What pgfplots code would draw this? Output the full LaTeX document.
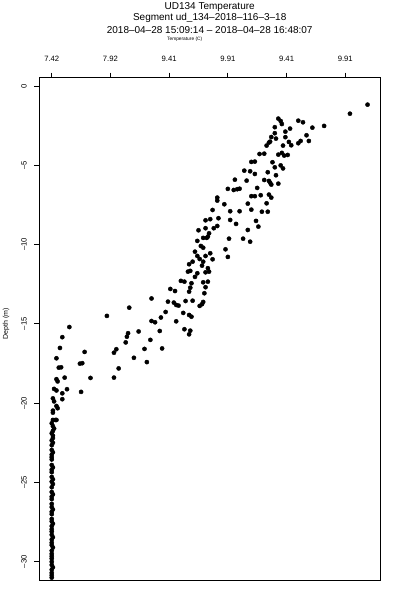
\documentclass[border=0pt]{standalone}
\usepackage{pgfplots}
\pgfplotsset{compat=1.18}
\usepackage{fontspec}
\setmainfont{Liberation Sans}
\begin{document}
\begin{tikzpicture}
\useasboundingbox (-39.3pt,-20pt) rectangle (360.7pt,580pt);
\begin{axis}[
  at={(0pt,0pt)}, anchor=south west,
  scale only axis, width=340.7pt, height=502.3pt,
  xmin=7.314, xmax=10.216, ymin=-31.15, ymax=0.52,
  axis line style={line width=0.8pt},
  xtick pos=upper, ytick pos=left,
  tick align=outside, major tick length=5pt,
  tick style={line width=0.8pt, black},
  xtick={7.42,7.92,8.42,8.92,9.42,9.92},
  xticklabels={7.42,7.92,9.41,9.91,9.41,9.91},
  ytick={-30,-25,-20,-15,-10,-5,0},
  yticklabels={–30,–25,–20,–15,–10,–5,0},
  ticklabel style={font=\fontsize{7.7}{8}\selectfont},
  xticklabel style={anchor=south, yshift=8pt},
  yticklabel style={rotate=90, anchor=south, yshift=4pt},
  clip=false,
]
\addplot[only marks, mark=*, mark size=2.1pt, black] coordinates {
(10.11,-1.18) (9.96,-1.75) (9.74,-2.52) (9.64,-2.63) (9.52,-2.19) (9.56,-2.29)
(9.35,-2.06) (9.37,-2.21) (9.38,-2.40) (9.45,-2.69) (9.32,-2.60) (9.41,-2.88)
(9.32,-2.98) (9.59,-3.11) (9.61,-3.47) (9.54,-3.47) (9.52,-3.61) (9.41,-3.23)
(9.29,-3.22) (9.28,-3.51) (9.27,-3.57) (9.33,-3.32) (9.44,-3.53) (9.46,-3.74)
(9.25,-3.76) (9.39,-3.76) (9.19,-4.29) (9.23,-4.27) (9.35,-4.33) (9.38,-4.22)
(9.40,-4.39) (9.43,-4.35) (9.12,-4.79) (9.15,-4.77) (9.30,-4.81) (9.32,-5.13)
(9.37,-5.01) (9.39,-5.20) (9.06,-5.34) (9.11,-5.38) (9.15,-5.55) (9.26,-5.44)
(9.33,-5.63) (9.23,-5.93) (9.27,-5.99) (9.28,-6.10) (9.29,-6.22) (9.35,-6.16)
(8.98,-5.91) (9.08,-5.97) (9.17,-6.43) (8.92,-6.49) (8.97,-6.56) (9.00,-6.51)
(9.02,-6.48) (9.12,-6.95) (9.15,-6.95) (9.20,-6.89) (9.27,-6.85) (9.29,-7.04)
(8.83,-7.04) (8.83,-7.23) (8.89,-7.46) (9.09,-7.42) (9.25,-7.40) (8.79,-7.82)
(8.94,-7.90) (9.02,-7.90) (9.12,-7.80) (9.21,-7.93) (9.26,-7.93) (8.73,-8.47)
(8.77,-8.40) (8.84,-8.34) (8.94,-8.45) (8.99,-8.70) (9.16,-8.51) (9.18,-8.87)
(8.67,-9.10) (8.73,-8.97) (8.80,-8.97) (8.83,-8.83) (8.76,-9.29) (9.09,-9.08)
(8.71,-9.58) (8.74,-9.58) (8.93,-9.63) (9.05,-9.63) (8.66,-9.77) (8.75,-9.50)
(9.11,-9.82) (8.69,-10.09) (8.71,-10.20) (8.90,-10.30) (8.64,-10.45) (8.66,-10.72)
(8.68,-10.91) (8.73,-10.72) (8.77,-10.55) (8.79,-10.93) (8.92,-10.78) (8.62,-11.08)
(8.59,-11.24) (8.71,-11.08) (8.70,-11.33) (8.75,-11.49) (8.76,-11.71) (8.73,-11.75)
(8.58,-11.71) (8.60,-11.66) (8.66,-11.81) (8.64,-12.04) (8.52,-12.29) (8.55,-12.34)
(8.61,-12.44) (8.71,-12.38) (8.75,-12.34) (8.73,-12.69) (8.43,-12.80) (8.47,-12.93)
(8.60,-12.72) (8.59,-12.97) (8.72,-13.07) (8.27,-13.40) (8.41,-13.60) (8.46,-13.66)
(8.48,-13.81) (8.50,-13.85) (8.56,-13.56) (8.62,-13.54) (8.70,-13.76) (8.68,-13.87)
(8.71,-13.62) (8.39,-14.25) (8.35,-14.60) (8.27,-14.82) (8.30,-14.90) (8.54,-14.31)
(8.59,-14.44) (8.61,-14.55) (8.48,-14.84) (8.34,-15.45) (8.55,-15.34) (8.60,-15.43)
(8.59,-15.66) (8.26,-16.01) (8.36,-16.55) (8.08,-13.98) (7.89,-14.50) (7.57,-15.20)
(7.51,-15.84) (7.49,-16.52) (7.46,-17.17) (7.70,-16.77) (7.66,-17.51) (7.68,-17.48)
(7.48,-17.76) (7.50,-17.74) (7.95,-18.39) (7.75,-18.41) (7.99,-17.81) (7.95,-16.82)
(7.97,-16.60) (8.05,-16.17) (8.06,-15.81) (8.07,-15.59) (8.12,-17.14) (8.16,-15.48)
(8.21,-16.58) (8.23,-17.41) (7.46,-18.49) (7.47,-18.63) (7.53,-18.39) (7.44,-19.10)
(7.46,-19.20) (7.51,-19.38) (7.55,-19.12) (7.67,-19.29) (7.43,-19.70) (7.44,-19.89)
(7.51,-19.75) (7.46,-20.18) (7.47,-20.32) (7.43,-20.47) (7.43,-20.60) (7.43,-21.06)
(7.45,-21.06) (7.46,-21.06) (7.42,-21.27)
(7.43,-21.45) (7.44,-21.60) (7.43,-21.75) (7.42,-21.90) (7.43,-22.05) (7.43,-22.20)
(7.42,-22.35) (7.43,-22.50) (7.42,-22.65) (7.42,-22.95) (7.43,-23.10) (7.42,-23.25)
(7.42,-23.40) (7.42,-23.55) (7.42,-23.90) (7.43,-24.05) (7.42,-24.20) (7.42,-24.35)
(7.42,-24.65) (7.43,-24.80) (7.42,-24.95) (7.43,-25.10) (7.42,-25.30) (7.42,-25.60)
(7.43,-25.75) (7.42,-25.90) (7.42,-26.05) (7.42,-26.35) (7.42,-26.55) (7.43,-26.70)
(7.42,-26.85) (7.42,-27.00) (7.42,-27.30) (7.42,-27.45) (7.43,-27.60) (7.42,-27.75)
(7.42,-27.95) (7.42,-28.10) (7.42,-28.30) (7.43,-28.45) (7.42,-28.60) (7.42,-28.80)
(7.42,-28.95) (7.43,-29.10) (7.42,-29.30) (7.42,-29.50) (7.42,-29.65) (7.42,-29.80)
(7.42,-30.00) (7.42,-30.20) (7.43,-30.35) (7.42,-30.50) (7.42,-30.70) (7.42,-30.85)
(7.42,-31.00)
};
\end{axis}
\node[font=\fontsize{10}{12}\selectfont] at (170.4pt,573.3pt) {UD134 Temperature};
\node[font=\fontsize{10}{12}\selectfont] at (170.4pt,561.7pt) {Segment ud\_134–2018–116–3–18};
\node[font=\fontsize{10}{12}\selectfont] at (170.4pt,550pt) {2018–04–28 15:09:14 – 2018–04–28 16:48:07};
\node[font=\fontsize{4.8}{5}\selectfont] at (145.4pt,540.5pt) {Temperature (C)};
\node[font=\fontsize{7}{8}\selectfont, rotate=90] at (-33.3pt,256pt) {Depth (m)};
\end{tikzpicture}
\end{document}
